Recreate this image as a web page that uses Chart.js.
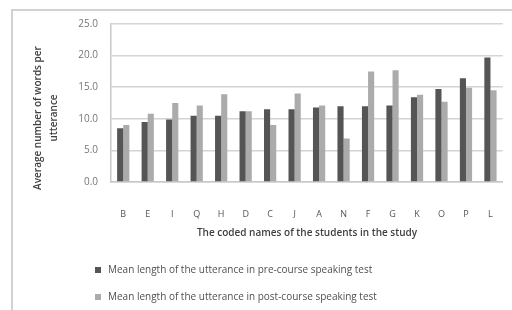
<!DOCTYPE html>
<html lang="en">
<head>
<meta charset="UTF-8">
<title>Mean length of utterance</title>
<script src="https://cdn.jsdelivr.net/npm/chart.js"></script>
<style>
  body { margin: 0; background: #fff; }
  canvas { display: block; filter: blur(0.35px); }
</style>
</head>
<body>
<canvas id="mluChart" width="512" height="310"></canvas>
<script>
const students = ['B', 'E', 'I', 'Q', 'H', 'D', 'C', 'J', 'A', 'N', 'F', 'G', 'K', 'O', 'P', 'L'];
const preCourse = [8.5, 9.5, 9.9, 10.5, 10.5, 11.2, 11.5, 11.5, 11.8, 12.0, 12.0, 12.1, 13.4, 14.7, 16.4, 19.7];
const postCourse = [9.0, 10.8, 12.5, 12.1, 13.9, 11.2, 9.0, 14.0, 12.1, 6.9, 17.5, 17.7, 13.8, 12.7, 14.9, 14.5];
const seriesNames = [
  'Mean length of the utterance in pre-course speaking test',
  'Mean length of the utterance in post-course speaking test'
];
const seriesColors = ['#555555', '#ababab'];
const yAxisTitle = ['Average number of words per', 'utterance'];
const xAxisTitle = 'The coded names of the students in the study';

const FONT = "'Open Sans', 'Liberation Sans', sans-serif";

// frame, axis titles and the stacked legend are drawn by hand
const decor = {
  id: 'decor',
  afterDraw(chart) {
    const c = chart.ctx;
    c.save();
    c.strokeStyle = '#d2d2d2';
    c.lineWidth = 2;
    c.beginPath();
    c.moveTo(12, 310);
    c.lineTo(12, 10);
    c.lineTo(512, 10);
    c.stroke();

    c.fillStyle = '#404040';
    c.textAlign = 'center';
    c.textBaseline = 'middle';
    c.font = '600 10px ' + FONT;
    c.save();
    c.translate(38, 118);
    c.rotate(-Math.PI / 2);
    c.fillText(yAxisTitle[0], 0, 0, 178);
    c.fillText(yAxisTitle[1], 0, 16, 70);
    c.restore();

    c.fillText(xAxisTitle, 307, 233, 268);

    c.textAlign = 'left';
    c.font = '10px ' + FONT;
    const rows = [270, 297];
    rows.forEach((y, i) => {
      c.fillStyle = seriesColors[i];
      c.fillRect(95, y - 3, 6, 6);
      c.fillStyle = '#505050';
      c.fillText(seriesNames[i], 108, y, 324);
    });
    c.restore();
  }
};

new Chart(document.getElementById('mluChart'), {
  type: 'bar',
  data: {
    labels: students,
    datasets: [
      { label: seriesNames[0], data: preCourse, backgroundColor: seriesColors[0] },
      { label: seriesNames[1], data: postCourse, backgroundColor: seriesColors[1] }
    ]
  },
  options: {
    responsive: false,
    animation: false,
    layout: { padding: { top: 24, right: 6, left: 0, bottom: 0 } },
    datasets: { bar: { categoryPercentage: 0.5, barPercentage: 1.0 } },
    plugins: { legend: { display: false }, tooltip: { enabled: false } },
    scales: {
      x: {
        grid: { display: false },
        border: { display: true, color: '#c8c8c8', width: 1.5 },
        ticks: { color: '#555', font: { size: 9, family: FONT }, padding: 19 },
        afterFit(scale) { scale.height = 128; }
      },
      y: {
        min: 0,
        max: 25,
        ticks: {
          stepSize: 5,
          color: '#777',
          font: { size: 10, family: FONT },
          padding: 13,
          callback: v => v.toFixed(1)
        },
        grid: { color: '#d4d4d4', lineWidth: 1.5, drawTicks: false },
        border: { display: true, color: '#c8c8c8', width: 1.5 },
        afterFit(scale) { scale.width = 111; }
      }
    }
  },
  plugins: [decor]
});
</script>
</body>
</html>
